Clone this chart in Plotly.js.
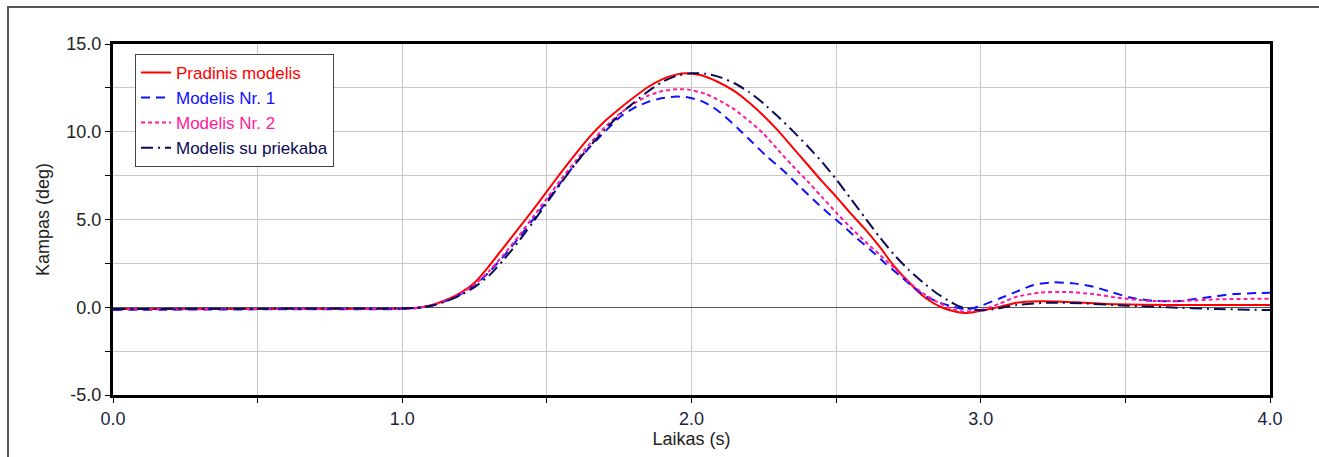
<!DOCTYPE html>
<html>
<head>
<meta charset="utf-8">
<script src="https://cdn.plot.ly/plotly-3.0.1.min.js"></script>
<style>
  html, body { margin: 0; padding: 0; background: #fff; }
  #wrap { position: relative; width: 1319px; height: 457px; }
  #chart { width: 1319px; height: 457px; }
  #frame { position: absolute; left: 7px; top: 6px; width: 1312px; height: 451px;
           border-top: 2px solid #555; border-left: 2px solid #555; box-sizing: border-box; pointer-events: none; }
</style>
</head>
<body>
<div id="wrap"><div id="chart"></div><div id="frame"></div></div>
<script>
// Series names
const seriesNames = ["Pradinis modelis", "Modelis Nr. 1", "Modelis Nr. 2", "Modelis su priekaba"];

// Pradinis modelis (time s, angle deg)
const tRed = [0, 0.5, 1.0, 1.05, 1.1, 1.15, 1.2, 1.25, 1.3, 1.35, 1.4, 1.45, 1.5, 1.55, 1.6, 1.65, 1.7, 1.75, 1.8, 1.85, 1.9, 1.95, 1.98, 2.03, 2.09, 2.15, 2.2, 2.25, 2.3, 2.35, 2.4, 2.45, 2.5, 2.55, 2.6, 2.65, 2.7, 2.75, 2.79, 2.83, 2.86, 2.9, 2.934, 2.96, 2.986, 3.03, 3.067, 3.124, 3.205, 3.28, 3.354, 3.47, 3.643, 4.0];
const vRed = [-0.1, -0.1, -0.08, -0.03, 0.12, 0.4, 0.8, 1.4, 2.35, 3.4, 4.45, 5.5, 6.6, 7.7, 8.75, 9.75, 10.6, 11.3, 11.95, 12.55, 13.0, 13.27, 13.33, 13.23, 12.85, 12.3, 11.65, 10.9, 10.05, 9.1, 8.15, 7.2, 6.3, 5.35, 4.45, 3.45, 2.35, 1.45, 0.79, 0.3, 0.03, -0.2, -0.31, -0.32, -0.25, -0.1, 0.03, 0.26, 0.34, 0.32, 0.26, 0.17, 0.13, 0.13];

// Modelis Nr. 1
const tBlue = [0, 0.5, 1.0, 1.05, 1.1, 1.15, 1.2, 1.25, 1.3, 1.35, 1.4, 1.45, 1.5, 1.55, 1.6, 1.65, 1.7, 1.75, 1.8, 1.85, 1.9, 1.94, 1.98, 2.03, 2.07, 2.11, 2.16, 2.21, 2.26, 2.32, 2.37, 2.42, 2.47, 2.52, 2.57, 2.62, 2.67, 2.72, 2.77, 2.81, 2.86, 2.905, 2.94, 2.96, 3.0, 3.067, 3.124, 3.182, 3.251, 3.32, 3.389, 3.458, 3.516, 3.597, 3.689, 3.781, 3.873, 4.0];
const vBlue = [-0.15, -0.12, -0.1, -0.05, 0.08, 0.35, 0.72, 1.25, 2.0, 2.9, 3.9, 4.95, 6.05, 7.15, 8.2, 9.15, 10.0, 10.8, 11.35, 11.7, 11.92, 12.0, 11.98, 11.78, 11.45, 10.95, 10.2, 9.4, 8.6, 7.75, 6.95, 6.15, 5.4, 4.7, 3.95, 3.25, 2.5, 1.8, 1.1, 0.62, 0.25, 0.03, -0.1, -0.1, 0.08, 0.51, 0.89, 1.27, 1.42, 1.36, 1.17, 0.83, 0.56, 0.36, 0.36, 0.56, 0.75, 0.83];

// Modelis Nr. 2
const tPink = [0, 0.5, 1.0, 1.05, 1.1, 1.15, 1.2, 1.25, 1.3, 1.35, 1.4, 1.45, 1.5, 1.55, 1.6, 1.65, 1.7, 1.75, 1.8, 1.85, 1.9, 1.95, 1.99, 2.05, 2.1, 2.15, 2.2, 2.25, 2.3, 2.35, 2.4, 2.45, 2.5, 2.55, 2.6, 2.65, 2.7, 2.75, 2.8, 2.85, 2.9, 2.94, 2.97, 3.009, 3.067, 3.124, 3.205, 3.297, 3.389, 3.47, 3.585, 3.7, 3.816, 4.0];
const vPink = [-0.12, -0.1, -0.08, -0.04, 0.1, 0.38, 0.76, 1.3, 2.05, 2.98, 4.0, 5.1, 6.2, 7.3, 8.35, 9.35, 10.25, 11.0, 11.6, 12.05, 12.32, 12.42, 12.4, 12.15, 11.75, 11.25, 10.6, 9.87, 8.95, 8.05, 7.2, 6.3, 5.4, 4.55, 3.75, 3.0, 2.25, 1.45, 0.8, 0.3, -0.08, -0.25, -0.22, -0.12, 0.22, 0.6, 0.83, 0.87, 0.75, 0.55, 0.36, 0.36, 0.45, 0.49];

// Modelis su priekaba
const tNavy = [0, 0.5, 1.0, 1.05, 1.1, 1.15, 1.2, 1.25, 1.3, 1.35, 1.4, 1.45, 1.5, 1.55, 1.6, 1.65, 1.7, 1.75, 1.8, 1.85, 1.9, 1.95, 2.0, 2.05, 2.1, 2.15, 2.2, 2.25, 2.3, 2.35, 2.4, 2.45, 2.5, 2.55, 2.6, 2.65, 2.7, 2.75, 2.8, 2.85, 2.9, 2.93, 2.97, 3.0, 3.043, 3.124, 3.239, 3.354, 3.505, 3.643, 3.816, 4.0];
const vNavy = [-0.1, -0.08, -0.06, -0.03, 0.08, 0.33, 0.68, 1.15, 1.8, 2.7, 3.7, 4.8, 5.95, 7.1, 8.2, 9.2, 10.1, 10.95, 11.65, 12.3, 12.85, 13.2, 13.33, 13.3, 13.1, 12.75, 12.25, 11.6, 10.85, 10.05, 9.2, 8.3, 7.3, 6.2, 5.1, 4.0, 3.0, 2.15, 1.42, 0.77, 0.27, 0.03, -0.13, -0.17, -0.12, 0.13, 0.26, 0.22, 0.09, 0.0, -0.1, -0.16];

// Axis ticks
const xTickVals = [0, 0.5, 1, 1.5, 2, 2.5, 3, 3.5, 4];
const xTickText = ["0.0", "", "1.0", "", "2.0", "", "3.0", "", "4.0"];
const yTickVals = [-5, -2.5, 0, 2.5, 5, 7.5, 10, 12.5, 15];
const yTickText = ["-5.0", "", "0.0", "", "5.0", "", "10.0", "", "15.0"];

const colors = ["#ff0000", "#1010ff", "#ff1a9a", "#0b0b55"];
const dashes = ["solid", "9px,6px", "4px,3px", "12px,5px,2px,5px"];

const xs = [tRed, tBlue, tPink, tNavy];
const ys = [vRed, vBlue, vPink, vNavy];

const traces = xs.map((x, i) => ({
  x: x, y: ys[i], type: "scatter", mode: "lines",
  name: '<span style="color:' + colors[i] + '">' + seriesNames[i] + '</span>',
  line: { color: colors[i], width: 2, dash: dashes[i], shape: "spline", smoothing: 0.6 }
}));

const font = "Liberation Sans, Arial, sans-serif";

const layout = {
  width: 1319, height: 457,
  margin: { l: 113, r: 49, t: 44, b: 62 },
  paper_bgcolor: "#fff", plot_bgcolor: "#fff",
  font: { family: font, size: 18, color: "#222" },
  showlegend: true,
  legend: {
    x: 0.019, y: 0.972, xanchor: "left", yanchor: "top",
    bgcolor: "#fff", bordercolor: "#444", borderwidth: 1,
    font: { family: font, size: 17 },
    tracegroupgap: 0
  },
  xaxis: {
    range: [0, 4], tickvals: xTickVals, ticktext: xTickText,
    showgrid: true, gridcolor: "#c8c8c8", gridwidth: 1,
    showline: true, mirror: true, linecolor: "#000", linewidth: 3,
    ticks: "outside", ticklen: 5, tickcolor: "#000", tickwidth: 1,
    tickfont: { family: font, size: 18, color: "#1c2440" },
    zeroline: false,
    title: { text: "Laikas (s)", font: { family: font, size: 18, color: "#222" }, standoff: 4 }
  },
  yaxis: {
    range: [-5, 15], tickvals: yTickVals, ticktext: yTickText,
    showgrid: true, gridcolor: "#c8c8c8", gridwidth: 1,
    showline: true, mirror: true, linecolor: "#000", linewidth: 3,
    ticks: "outside", ticklen: 5, tickcolor: "#000", tickwidth: 1,
    tickfont: { family: font, size: 18, color: "#222" },
    zeroline: true, zerolinecolor: "#555", zerolinewidth: 1,
    title: { text: "Kampas (deg)", font: { family: font, size: 18, color: "#222" }, standoff: 13 }
  }
};

Plotly.newPlot("chart", traces, layout, { staticPlot: true, displayModeBar: false });
</script>
</body>
</html>
